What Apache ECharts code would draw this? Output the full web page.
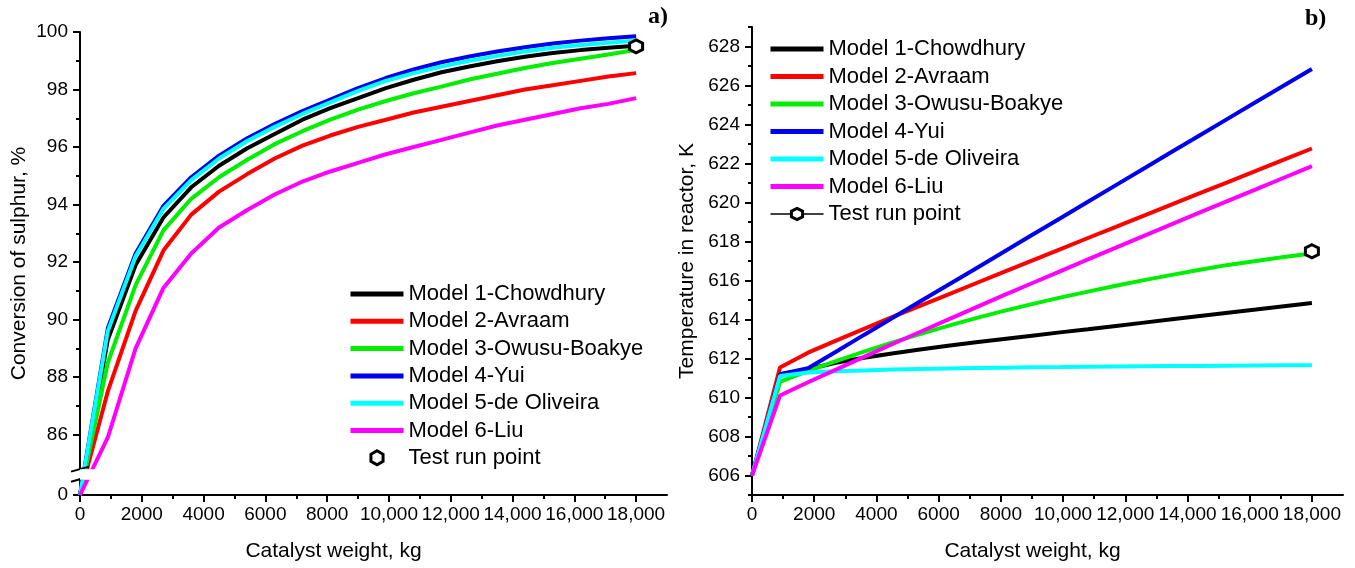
<!DOCTYPE html>
<html>
<head>
<meta charset="utf-8">
<script src="https://cdn.jsdelivr.net/npm/echarts@6.0.0/dist/echarts.min.js"></script>
<style>
  html, body { margin: 0; padding: 0; background: #fff; }
  #chart { width: 1355px; height: 568px; }
</style>
</head>
<body>
<div id="chart"></div>
<script>
// catalyst weight grid, kg
const weightKg = [0, 900, 1800, 2700, 3600, 4500, 5400, 6300, 7200, 8100, 9000,
  9900, 10800, 11700, 12600, 13500, 14400, 15300, 16200, 17100, 18000];

// a) conversion of sulphur, %
const conversionModel1 = [0, 89.3, 91.9, 93.55, 94.6, 95.35, 95.95, 96.45, 96.95, 97.35, 97.7,
  98.05, 98.34, 98.6, 98.8, 98.98, 99.14, 99.27, 99.37, 99.45, 99.52];
const conversionModel2 = [0, 87.5, 90.3, 92.4, 93.65, 94.45, 95.05, 95.6, 96.05, 96.4, 96.7,
  96.95, 97.2, 97.4, 97.6, 97.8, 98.0, 98.15, 98.3, 98.45, 98.57];
const conversionModel3 = [0, 88.5, 91.2, 93.1, 94.2, 94.95, 95.55, 96.1, 96.55, 96.95, 97.3,
  97.6, 97.87, 98.1, 98.35, 98.55, 98.75, 98.92, 99.07, 99.22, 99.38];
const conversionModel4 = [0, 89.7, 92.3, 93.95, 94.95, 95.7, 96.3, 96.8, 97.25, 97.65, 98.05,
  98.4, 98.7, 98.95, 99.15, 99.32, 99.47, 99.6, 99.7, 99.78, 99.85];
const conversionModel5 = [0, 89.6, 92.2, 93.85, 94.85, 95.6, 96.2, 96.7, 97.15, 97.55, 97.95,
  98.3, 98.57, 98.8, 99.0, 99.17, 99.32, 99.45, 99.55, 99.63, 99.7];
const conversionModel6 = [0, 85.9, 89.0, 91.1, 92.3, 93.2, 93.8, 94.35, 94.8, 95.15, 95.45,
  95.75, 96.0, 96.25, 96.5, 96.75, 96.95, 97.15, 97.35, 97.5, 97.7];

// b) temperature in reactor, K
const temperatureModel1 = [606, 611.2, 611.45, 611.78, 612.04, 612.26, 612.46, 612.65, 612.83, 613.0, 613.17,
  613.34, 613.5, 613.67, 613.84, 614.01, 614.18, 614.35, 614.51, 614.68, 614.85];
const temperatureModel2 = [606, 611.54, 612.3, 612.92, 613.52, 614.12, 614.7, 615.28, 615.86, 616.44, 617.02,
  617.6, 618.18, 618.75, 619.33, 619.9, 620.48, 621.05, 621.62, 622.2, 622.77];
const temperatureModel3 = [606, 610.8, 611.37, 611.87, 612.35, 612.81, 613.25, 613.67, 614.07, 614.44, 614.79,
  615.12, 615.43, 615.73, 616.02, 616.29, 616.55, 616.8, 617.0, 617.2, 617.38];
const temperatureModel4 = [606, 611.2, 611.5, 612.35, 613.21, 614.06, 614.92, 615.77, 616.62, 617.47, 618.33,
  619.18, 620.04, 620.89, 621.74, 622.6, 623.45, 624.3, 625.15, 626.0, 626.85];
const temperatureModel5 = [606, 611.1, 611.28, 611.34, 611.39, 611.43, 611.46, 611.49, 611.51, 611.53, 611.55,
  611.56, 611.58, 611.59, 611.6, 611.61, 611.62, 611.63, 611.64, 611.65, 611.66];
const temperatureModel6 = [606, 610.1, 610.78, 611.43, 612.08, 612.73, 613.36, 613.99, 614.62, 615.25, 615.86,
  616.47, 617.08, 617.69, 618.29, 618.89, 619.49, 620.08, 620.67, 621.27, 621.87];

// test run point
const testRunWeight = 18000;
const testRunConversion = 99.5;
const testRunTemperature = 617.5;

// tick labels
const weightTicks = [0, 2000, 4000, 6000, 8000, 10000, 12000, 14000, 16000, 18000];
const weightMinorTicks = [1000, 3000, 5000, 7000, 9000, 11000, 13000, 15000, 17000];
const conversionTicks = [0, 86, 88, 90, 92, 94, 96, 98, 100];
const conversionMinorTicks = [87, 89, 91, 93, 95, 97, 99];
const temperatureTicks = [606, 608, 610, 612, 614, 616, 618, 620, 622, 624, 626, 628];
const temperatureMinorTicks = [605, 607, 609, 611, 613, 615, 617, 619, 621, 623, 625, 627, 629];

const models = [
  { name: 'Model 1-Chowdhury', color: '#000000', conv: conversionModel1, temp: temperatureModel1 },
  { name: 'Model 2-Avraam', color: '#ff0000', conv: conversionModel2, temp: temperatureModel2 },
  { name: 'Model 3-Owusu-Boakye', color: '#00ee00', conv: conversionModel3, temp: temperatureModel3 },
  { name: 'Model 4-Yui', color: '#0000ee', conv: conversionModel4, temp: temperatureModel4 },
  { name: 'Model 5-de Oliveira', color: '#00ffff', conv: conversionModel5, temp: temperatureModel5 },
  { name: 'Model 6-Liu', color: '#ff00ff', conv: conversionModel6, temp: temperatureModel6 }
];

const FONT = 'Liberation Sans, Arial, sans-serif';
const HEX = 'path://M0,-1L0.866,-0.5L0.866,0.5L0,1L-0.866,0.5L-0.866,-0.5Z';

const fmtWeight = (v) => (v >= 10000 ? v.toLocaleString('en-US') : String(v));

const axisLine = { show: true, onZero: false, lineStyle: { color: '#000', width: 2 } };
const labelStyle = { color: '#000', fontFamily: FONT, fontSize: 19 };
const nameStyle = { color: '#000', fontFamily: FONT, fontSize: 21 };

// hidden-line axis that only draws the short minor ticks
const minorAxis = (base, values) => Object.assign({}, base, {
  name: '',
  axisLine: { show: false },
  axisLabel: { show: false },
  axisTick: { show: true, inside: false, length: 4, customValues: values, lineStyle: { color: '#000', width: 2 } },
  splitLine: { show: false }
});

const xLeft = {
  gridIndex: 0, type: 'value', position: 'bottom', min: 0, max: 19000,
  name: 'Catalyst weight, kg', nameLocation: 'middle', nameGap: 46,
  nameTextStyle: Object.assign({ padding: [0, 80, 0, 0] }, nameStyle),
  axisLine,
  axisTick: { show: true, length: 7, customValues: weightTicks, lineStyle: { color: '#000', width: 2 } },
  axisLabel: Object.assign({ customValues: weightTicks, margin: 10, formatter: fmtWeight }, labelStyle),
  splitLine: { show: false }
};
const xRight = Object.assign({}, xLeft, {
  gridIndex: 1,
  nameTextStyle: Object.assign({ padding: [0, 30, 0, 0] }, nameStyle)
});

const yLeft = {
  gridIndex: 0, type: 'value', position: 'left', min: 0, max: 100,
  breaks: [{ start: 0.55, end: 84.8, gap: 0.35 }],
  breakArea: { show: true, expandOnClick: false, zigzagAmplitude: 0, z: 10, itemStyle: { color: '#fff', borderWidth: 0, opacity: 1 } },
  name: 'Conversion of sulphur, %', nameLocation: 'middle', nameGap: 50, nameTextStyle: nameStyle,
  axisLine,
  axisTick: { show: true, length: 7, customValues: conversionTicks, lineStyle: { color: '#000', width: 2 } },
  axisLabel: Object.assign({ customValues: conversionTicks, margin: 12 }, labelStyle),
  splitLine: { show: false }
};
const yRight = {
  gridIndex: 1, type: 'value', position: 'left', min: 605, max: 629,
  name: 'Temperature in reactor, K', nameLocation: 'middle', nameGap: 54, nameTextStyle: nameStyle,
  axisLine,
  axisTick: { show: true, length: 7, customValues: temperatureTicks, lineStyle: { color: '#000', width: 2 } },
  axisLabel: Object.assign({ customValues: temperatureTicks, margin: 12 }, labelStyle),
  splitLine: { show: false }
};

const series = [];
models.forEach((m) => {
  series.push({
    name: m.name, type: 'line', xAxisIndex: 0, yAxisIndex: 0,
    data: weightKg.map((w, i) => [w, m.conv[i]]),
    symbol: 'none', color: m.color, lineStyle: { width: 4, color: m.color }, animation: false
  });
});
series.push({
  name: 'Test run point', type: 'scatter', xAxisIndex: 0, yAxisIndex: 0,
  data: [[testRunWeight, testRunConversion]],
  symbol: HEX, symbolSize: 13, z: 10,
  itemStyle: { color: '#fff', borderColor: '#000', borderWidth: 3, opacity: 1 }
});
models.forEach((m) => {
  series.push({
    name: m.name, type: 'line', xAxisIndex: 2, yAxisIndex: 2,
    data: weightKg.map((w, i) => [w, m.temp[i]]),
    symbol: 'none', color: m.color, lineStyle: { width: 4, color: m.color }, animation: false
  });
});
series.push({
  name: 'Test run point ', type: 'line', xAxisIndex: 2, yAxisIndex: 2,
  data: [[testRunWeight, testRunTemperature]],
  symbol: HEX, symbolSize: 13, showSymbol: true, z: 10,
  lineStyle: { color: '#000', width: 1.5 },
  itemStyle: { color: '#fff', borderColor: '#000', borderWidth: 3, opacity: 1 }
});

// legend entries: plain thick line for models, marker for the test run
const legendItems = (testName, withLine) => models.map((m) => ({
  name: m.name,
  itemStyle: { opacity: 0 },
  lineStyle: { width: 5 }
})).concat([{
  name: testName,
  itemStyle: { color: '#fff', borderColor: '#000', borderWidth: 3 },
  lineStyle: { width: withLine ? 1.5 : 0 }
}]);

const legendBase = {
  orient: 'vertical', itemWidth: 53, itemHeight: 14, padding: 0,
  formatter: (n) => n.trim(),
  textStyle: { color: '#000', fontFamily: FONT, fontSize: 22, lineHeight: 22 },
  selectedMode: false
};

const chart = echarts.init(document.getElementById('chart'), null, { renderer: 'canvas' });
const labelGraphics = [
  { type: 'text', left: 648, top: 5, style: { text: 'a)', fill: '#000', font: 'bold 24px "Liberation Serif", serif' } },
  { type: 'text', left: 1305, top: 7, style: { text: 'b)', fill: '#000', font: 'bold 24px "Liberation Serif", serif' } }
];
chart.setOption({
  backgroundColor: '#fff',
  animation: false,
  grid: [
    { left: 80, top: 32, width: 587, height: 463, outerBoundsMode: 'none', containLabel: false },
    { left: 752, top: 27, width: 591, height: 468, outerBoundsMode: 'none', containLabel: false }
  ],
  xAxis: [xLeft, minorAxis(xLeft, weightMinorTicks), xRight, minorAxis(xRight, weightMinorTicks)],
  yAxis: [yLeft, minorAxis(yLeft, conversionMinorTicks), yRight, minorAxis(yRight, temperatureMinorTicks)],
  legend: [
    Object.assign({ left: 348, top: 283, itemGap: 5.3, data: legendItems('Test run point', false) }, legendBase),
    Object.assign({ left: 768, top: 38, itemGap: 5.5, data: legendItems('Test run point ', true) }, legendBase)
  ],
  series,
  graphic: labelGraphics
});

// axis-break slashes on the conversion axis
const lo = chart.convertToPixel({ xAxisIndex: 0, yAxisIndex: 0 }, [0, yLeft.breaks[0].start]);
const hi = chart.convertToPixel({ xAxisIndex: 0, yAxisIndex: 0 }, [0, yLeft.breaks[0].end]);
const slash = (p) => ({
  type: 'line', z: 100,
  shape: { x1: p[0] - 9, y1: p[1] + 2.5, x2: p[0] + 9, y2: p[1] - 2.5 },
  style: { stroke: '#000', lineWidth: 2 }
});
chart.setOption({ graphic: labelGraphics.concat([slash(lo), slash(hi)]) });
</script>
</body>
</html>
